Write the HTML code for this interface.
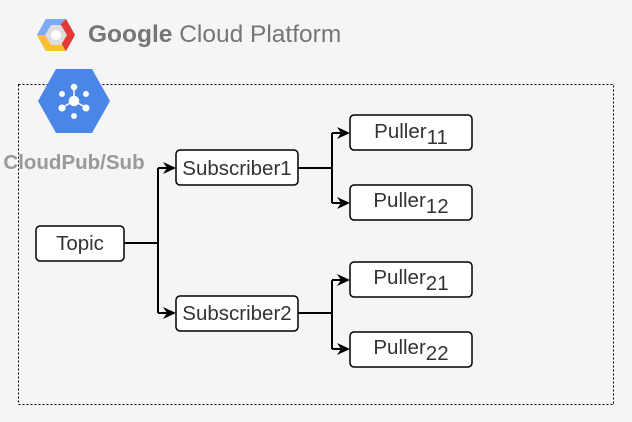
<!DOCTYPE html>
<html><head><style>
html,body{margin:0;padding:0;background:#f5f5f5;}
svg{display:block}
text{font-family:"Liberation Sans",sans-serif;}
</style></head><body>
<svg width="632" height="422" viewBox="0 0 632 422" xmlns="http://www.w3.org/2000/svg">
<rect x="0" y="0" width="632" height="422" fill="#f5f5f5"/>
<!-- GCP logo -->
<g transform="translate(56,35)">
<polygon points="-19,0 -10,-16 10,-16 19,0 10,16 -10,16" fill="#4a86e8"/>
<polygon points="-19,0 -10,16 10,16 4,6 -5,6 -10,0" fill="#fbc02d"/>
<polygon points="19,0 10,16 4,6 8,0 3,-9 10,-16" fill="#e53935"/>
<polygon points="-10,-16 10,-16 3,-9 -5,-9 -10,0 -19,0" fill="#7baaf7"/>
<polygon points="-11,0 -5,-10 5,-10 11,0 5,10 -5,10" fill="#ddd"/>
<circle cx="0" cy="0" r="5" fill="#fff"/>
</g>
<text x="88" y="42" font-size="24.5" fill="#757575"><tspan font-weight="bold">Google</tspan> Cloud Platform</text>
<!-- container -->
<rect x="18.5" y="84.5" width="595" height="320" fill="none" stroke="#000" stroke-dasharray="2,2"/>
<!-- pubsub icon -->
<polygon points="38,101 56,69 92,69 110,101 92,133 56,133" fill="#4a86e8"/>
<g fill="#fff" stroke="#fff" stroke-width="1.5">
<line x1="74" y1="101" x2="74" y2="88"/><line x1="74" y1="101" x2="63" y2="107"/><line x1="74" y1="101" x2="85" y2="107"/>
<circle cx="74" cy="101" r="4.5"/><circle cx="74" cy="87" r="2.5"/><circle cx="62" cy="108" r="2.8"/><circle cx="86" cy="108" r="2.8"/>
<circle cx="62" cy="94" r="2.2"/><circle cx="86" cy="94" r="2.2"/><circle cx="74" cy="116" r="2.2"/>
</g>
<text x="74" y="169" font-size="20.5" font-weight="bold" fill="#999" text-anchor="middle">CloudPub/Sub</text>
<!-- connectors -->
<g stroke="#000" stroke-width="2" fill="none">
<path d="M124,243 H158 M158,168 V313 M158,168 H170 M158,313 H170"/>
<path d="M298,168 H332 M332,133 V203 M332,133 H344 M332,203 H344"/>
<path d="M298,313 H332 M332,280 V349 M332,280 H344 M332,349 H344"/>
</g>
<g fill="#000">
<polygon points="176,168 163,162 167,168 163,174"/>
<polygon points="176,313 163,307 167,313 163,319"/>
<polygon points="350,133 337,127 341,133 337,139"/>
<polygon points="350,203 337,197 341,203 337,209"/>
<polygon points="350,280 337,274 341,280 337,286"/>
<polygon points="350,349 337,343 341,349 337,355"/>
</g>
<!-- nodes -->
<g fill="#fff" stroke="#000" stroke-width="1.5">
<rect x="36" y="226" width="88" height="35" rx="4"/>
<rect x="176" y="150" width="122" height="35" rx="4"/>
<rect x="176" y="296" width="122" height="35" rx="4"/>
<rect x="350" y="115" width="122" height="35" rx="4"/>
<rect x="350" y="185" width="122" height="35" rx="4"/>
<rect x="350" y="262" width="122" height="35" rx="4"/>
<rect x="350" y="332" width="122" height="35" rx="4"/>
</g>
<g font-size="20.5" fill="#333" text-anchor="middle">
<text x="80" y="250">Topic</text>
<text x="237" y="175">Subscriber1</text>
<text x="237" y="320">Subscriber2</text>
<text x="411" y="138">Puller<tspan dy="6">11</tspan></text>
<text x="411" y="207">Puller<tspan dy="6">12</tspan></text>
<text x="411" y="284">Puller<tspan dy="6">21</tspan></text>
<text x="411" y="354">Puller<tspan dy="6">22</tspan></text>
</g>
</svg>
</body></html>
